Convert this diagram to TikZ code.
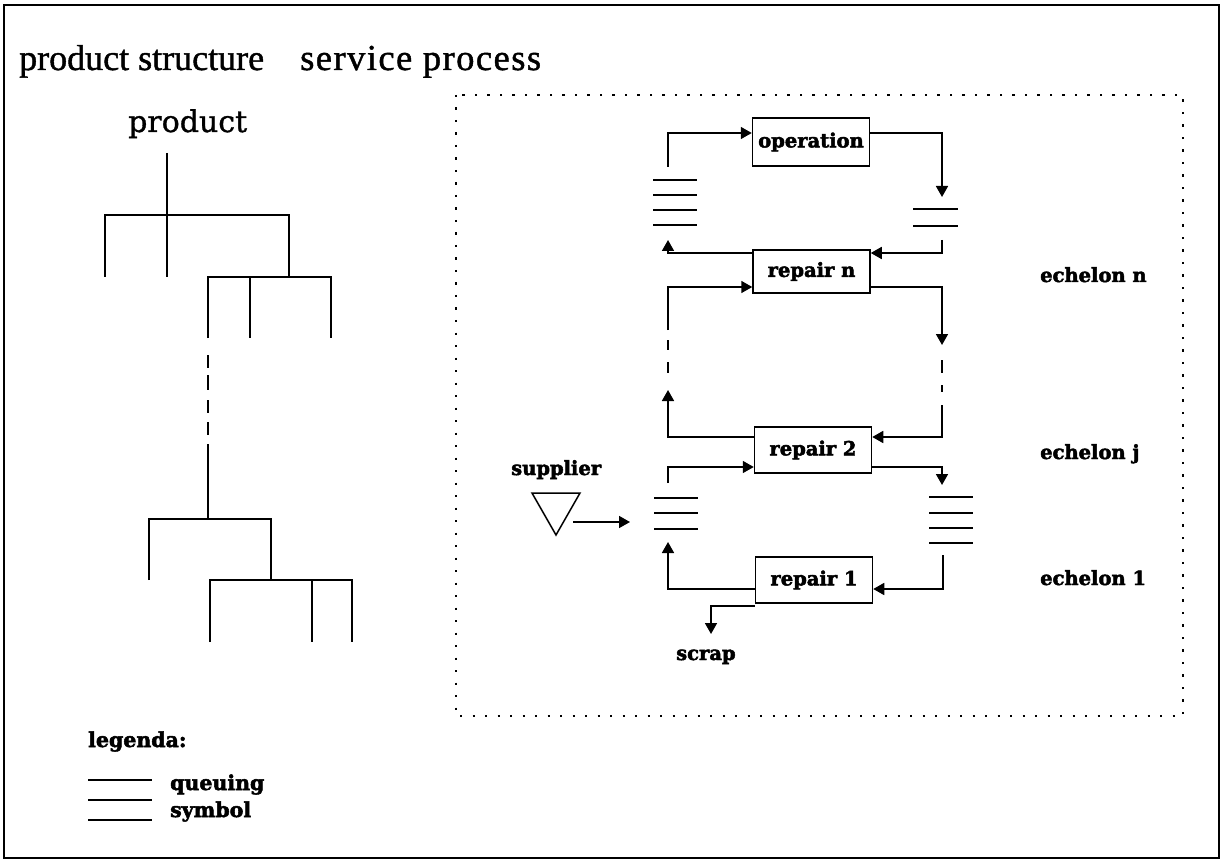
\documentclass[tikz,border=0pt]{standalone}
\usepackage{fontspec}
\setmainfont{Liberation Serif}[FakeBold=1.2]
\newfontfamily\lblfont{DejaVu Serif}[BoldFeatures={FakeBold=2.5}]
\newfontfamily\prodfont{DejaVu Serif}[FakeBold=1.0]
\usetikzlibrary{arrows.meta}
\begin{document}
\begin{tikzpicture}[x=1pt,y=-1pt,
  ln/.style={line width=1.8pt},
  tr/.style={line width=1.6pt},
  arr/.style={line width=1.7pt,-{Triangle[length=11pt,width=12pt]}},
  box/.style={draw,line width=1.5pt,minimum width=117pt,inner sep=0pt,
    font=\lblfont\bfseries\fontsize{19.5}{19.5}\selectfont},
  lbl/.style={font=\lblfont\bfseries\fontsize{19.5}{19.5}\selectfont,inner sep=0pt},
  leg/.style={font=\lblfont\bfseries\fontsize{20.5}{20.5}\selectfont,inner sep=0pt},
  ttl/.style={font=\fontsize{36}{36}\selectfont,inner sep=0pt}]
\useasboundingbox (0,0) rectangle (1224,861);
\draw[line width=2pt] (4,5) rectangle (1219,858);

% titles
\node[ttl,anchor=base west] (t1) at (19,70) {product structure};
\node[ttl,anchor=base west,font=\addfontfeature{LetterSpace=4}\fontsize{36.5}{36.5}\selectfont] (t2) at (300,70) {service process};
\node[inner sep=0pt,anchor=base west,font=\prodfont\fontsize{30}{30}\selectfont] (prod) at (128,132) {product};

% product tree
\draw[tr] (167,153)--(167,277);
\draw[tr] (105,277)--(105,215)--(289,215)--(289,277);
\draw[tr] (208,338)--(208,277)--(331,277)--(331,338);
\draw[tr] (250,277)--(250,338);
\draw[tr] (208,355)--(208,368) (208,375)--(208,390) (208,400)--(208,413) (208,422)--(208,435);
\draw[tr] (208,444)--(208,519);
\draw[tr] (149,580)--(149,519)--(271,519)--(271,580);
\draw[tr] (210,642)--(210,580)--(352,580)--(352,642);
\draw[tr] (312,580)--(312,642);

% legend
\node[leg,anchor=base west] (legt) at (88,747) {legenda:};
\draw[ln] (88,780)--(152,780) (88,800)--(152,800) (88,820)--(152,820);
\node[leg,anchor=base west] (leg1) at (170,790) {queuing};
\node[leg,anchor=base west] (leg2) at (170,817) {symbol};

% service process frame
\draw[line width=2.2pt,dash pattern=on 2.2pt off 10.3pt] (456,95) rectangle (1183,716);

% boxes
\node[box,minimum height=48pt] (op) at (811,142) {operation};
\node[box,minimum height=43pt] (rn) at (811.5,271.5) {repair n};
\node[box,minimum height=46pt] (r2) at (813,450) {repair 2};
\node[box,minimum height=46pt] (r1) at (814,580) {repair 1};

% queues
\draw[ln] (653,180)--(697,180) (653,195)--(697,195) (653,210)--(697,210) (653,225)--(697,225);
\draw[ln] (913,209)--(958,209) (913,226)--(958,226);
\draw[ln] (654,498)--(698,498) (654,513)--(698,513) (654,529)--(698,529);
\draw[ln] (929,497)--(973,497) (929,513)--(973,513) (929,528)--(973,528) (929,543)--(973,543);

% connector ends
\coordinate (qtlA) at (668,167);
\coordinate (qtrA) at (942,197);
\coordinate (qtrB) at (942,240);
\coordinate (qtlB) at (668,240);
\coordinate (lu1) at (668,330);
\coordinate (rd1) at (942,345);
\coordinate (rd2) at (942,405);
\coordinate (lu2) at (668,390);
\coordinate (qmlA) at (668,483);
\coordinate (qmrA) at (942,485);
\coordinate (qmrB) at (943,555);
\coordinate (qmlB) at (668,542);
\coordinate (scrapT) at (711,634);
\coordinate (supR) at (573,522);
\coordinate (qmlIn) at (630,522);

% connectors
\draw[arr] (qtlA) |- ([yshift=9pt]op.west);
\draw[arr] ([yshift=9pt]op.east) -| (qtrA);
\draw[arr] (qtrB) |- ([yshift=18.5pt]rn.east);
\draw[arr] ([yshift=18.5pt]rn.west) -| (qtlB);
\draw[arr] (lu1) |- ([yshift=-15.5pt]rn.west);
\draw[arr] ([yshift=-15.5pt]rn.east) -| (rd1);
\draw[arr] (rd2) |- ([yshift=13pt]r2.east);
\draw[arr] ([yshift=13pt]r2.west) -| (lu2);
\draw[arr] (qmlA) |- ([yshift=-17pt]r2.west);
\draw[arr] ([yshift=-17pt]r2.east) -| (qmrA);
\draw[arr] (qmrB) |- ([yshift=-9pt]r1.east);
\draw[arr] ([yshift=-9pt]r1.west) -| (qmlB);
\draw[arr] ([yshift=-2pt]r1.south west) -| (scrapT);
\draw[arr] (supR) -- (qmlIn);

% dashed continuations
\draw[ln] (668,340)--(668,350) (668,362)--(668,373);
\draw[ln] (942,360)--(942,373) (942,385)--(942,392);

% supplier
\draw[line width=1.5pt] (532,493) -- (580,493) -- (556,535) -- cycle;
\node[lbl,anchor=base west] (sup) at (511,475) {supplier};
\node[lbl,anchor=base west] (scrap) at (676,660) {scrap};

% echelons
\node[lbl,anchor=base west] (en) at (1040,282) {echelon n};
\node[lbl,anchor=base west] (ej) at (1040,459) {echelon j};
\node[lbl,anchor=base west] (e1) at (1040,585) {echelon 1};
\end{tikzpicture}
\end{document}
